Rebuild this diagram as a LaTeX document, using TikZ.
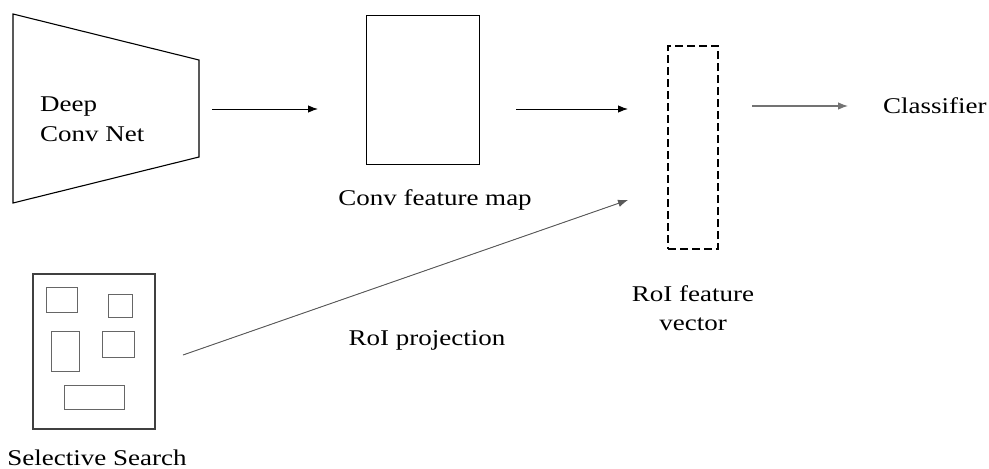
\documentclass[tikz,border=0pt]{standalone}
\usepackage{fontspec}
\setmainfont{Liberation Serif}[FakeStretch=1.2]
\usetikzlibrary{arrows.meta}
\begin{document}
\begin{tikzpicture}[x=1pt,y=-1pt,
  lbl/.style={font=\fontsize{22.5}{29.5}\selectfont, inner sep=0pt},
  conn/.style={-{Latex[length=10pt,width=7.5pt]}, line width=1pt},
  inner/.style={draw=black!60, line width=0.9pt, inner sep=0pt}]
\useasboundingbox (0,0) rectangle (989,469);
% Deep conv net trapezoid
\draw[line width=1.1pt] (13,14) -- (199,60) -- (199,157) -- (13,203) -- cycle;
\node[lbl, anchor=west, align=left] (net) at (40,119) {Deep\\Conv Net};
% conv feature map
\node[draw, line width=0.9pt, minimum width=113pt, minimum height=149pt, inner sep=0pt] (fmap) at (422.5,89.5) {};
\node[lbl] (fmaplbl) at (435,200) {Conv feature map};
% RoI feature vector
\node[draw, dash pattern=on 8pt off 4pt, line width=1.1pt, minimum width=50pt, minimum height=203pt, inner sep=0pt] (roi) at (693,147.5) {};
\node[lbl, align=center] (roilbl) at (693,308) {RoI feature\\vector};
% classifier
\node[lbl, anchor=west] (cls) at (883,106) {Classifier};
% selective search
\node[draw=black!75, line width=1.1pt, minimum width=122pt, minimum height=155pt, inner sep=0pt] (ss) at (94,351.5) {};
\node[inner, minimum width=31pt, minimum height=25pt] (r1) at (61.5,299.5) {};
\node[inner, minimum width=24pt, minimum height=23pt] (r2) at (120,305.5) {};
\node[inner, minimum width=28pt, minimum height=40pt] (r3) at (65,351) {};
\node[inner, minimum width=32pt, minimum height=26pt] (r4) at (118,344) {};
\node[inner, minimum width=60pt, minimum height=24pt] (r5) at (94,397) {};
\node[lbl] (sslbl) at (97,458) {Selective Search};
\node[lbl] (projlbl) at (427,340) {RoI projection};
% connectors
\coordinate (a1s) at (212,109); \coordinate (a1e) at (318,109);
\coordinate (a2s) at (516,109); \coordinate (a2e) at (628,109);
\coordinate (a3s) at (752,106); \coordinate (a3e) at (848,106);
\coordinate (a4s) at (183,355); \coordinate (a4e) at (628,200);
\draw[conn] (a1s) -- (a1e);
\draw[conn] (a2s) -- (a2e);
\draw[conn, draw=black!55, fill=black, line width=1.1pt] (a3s) -- (a3e);
\draw[conn, draw=black!65, fill=black, line width=0.9pt] (a4s) -- (a4e);
\end{tikzpicture}
\end{document}
